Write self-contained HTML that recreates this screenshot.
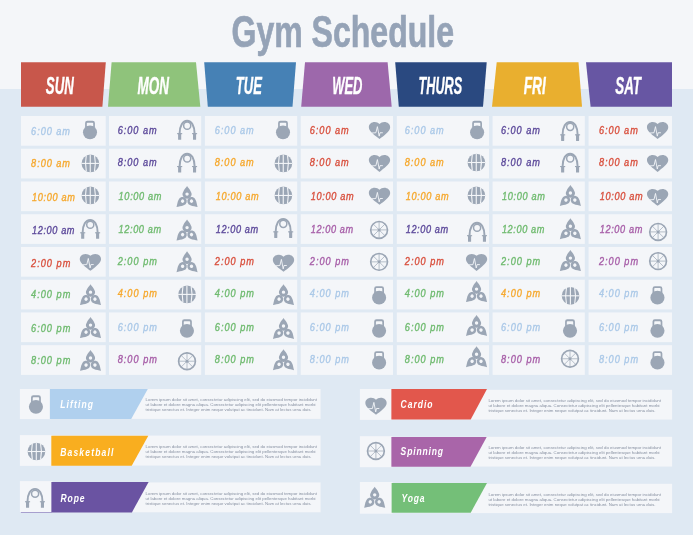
<!DOCTYPE html>
<html lang="en">
<head>
<meta charset="utf-8">
<title>Gym Schedule</title>
<style>
html,body{margin:0;padding:0;background:#dfe9f3;}
body{width:693px;height:535px;overflow:hidden;font-family:"Liberation Sans",Arial,sans-serif;}
svg{display:block;will-change:transform;}
</style>
</head>
<body>
<svg width="693" height="535" viewBox="0 0 693 535" font-family="'Liberation Sans', Arial, sans-serif">
<defs>
<g id="kb" fill="#9ba6b5"><ellipse cx="0" cy="2.3" rx="7.05" ry="6.9"/><path fill-rule="evenodd" d="M-4.9,-2.2 L-4.9,-6.9 Q-4.9,-9.2 -2.6,-9.2 L2.6,-9.2 Q4.9,-9.2 4.9,-6.9 L4.9,-2.2 Z M-3.2,-3.6 L-3.2,-6.6 Q-3.2,-7.3 -2.5,-7.3 L2.5,-7.3 Q3.2,-7.3 3.2,-6.6 L3.2,-3.6 Z"/></g>
<g id="bb"><circle cx="0" cy="0" r="8.85" fill="#9ba6b5"/><g stroke="#f4f6f9" stroke-width="1.1" fill="none"><path d="M-9,0 L9,0"/><path d="M-0.15,-9 L-0.15,9"/><path d="M-4.1,-8 Q-5.7,0 -4.1,8"/><path d="M4.1,-8 Q5.9,0 4.1,8"/></g></g>
<g id="rope" fill="#9ba6b5"><path d="M-7.5,3.6 C-7.4,-4.2 -4.4,-9.05 0,-9.05 C4.4,-9.05 7.4,-4.2 7.5,3.6" fill="none" stroke="#9ba6b5" stroke-width="1.95"/><circle cx="0.1" cy="-4.15" r="3.55" fill="none" stroke="#9ba6b5" stroke-width="1.5"/><rect x="-9" y="3.3" width="3.1" height="6.6" rx="0.3"/><rect x="-10" y="3.3" width="5.1" height="1.1"/><rect x="5.9" y="3.3" width="3.1" height="6.6" rx="0.3"/><rect x="4.9" y="3.3" width="5.1" height="1.1"/></g>
<g id="heart"><path fill="#9ba6b5" transform="translate(-12.78,-11.25) scale(1.065,0.926)" d="M12 21.35l-1.45-1.32C5.4 15.36 2 12.28 2 8.5 2 5.42 4.42 3 7.5 3c1.74 0 3.41.81 4.5 2.09C13.09 3.81 14.76 3 16.5 3 19.58 3 22 5.42 22 8.5c0 3.78-3.4 6.86-8.55 11.54L12 21.35z"/><path d="M-8,2.5 L-3.6,2.2 L-2.1,-3.9 L-0.3,5.6 L0.5,2.2 L3.3,2.2" fill="none" stroke="#f4f6f9" stroke-width="0.9" stroke-linejoin="miter"/></g>
<g id="wheel"><circle cx="0" cy="0" r="8.4" fill="none" stroke="#9ba6b5" stroke-width="1.65"/><g stroke="#9ba6b5" stroke-width="0.7"><path d="M-8.4,-0 L8.4,0"/><path d="M-5.94,-5.94 L5.94,5.94"/><path d="M-0,-8.4 L0,8.4"/><path d="M5.94,-5.94 L-5.94,5.94"/></g><circle cx="0" cy="0" r="1.5" fill="#9ba6b5"/></g>
<g id="yoga" fill="#9ba6b5" fill-rule="evenodd"><path transform="translate(0,-2.7)" d="M0,-8 C0.8,-6.4 3.05,-4.65 3.77,-2.36 A4.45,4.45 0 1 1 -3.77,-2.36 C-3.05,-4.65 -0.8,-6.4 0,-8 Z M1.7,0 A1.7,1.7 0 1 0 -1.7,0 A1.7,1.7 0 1 0 1.7,0 Z"/><path transform="translate(-4.45,4.3) rotate(-134)" d="M0,-8.5 C0.8,-6.6 3.0,-4.5 3.7,-2.0 A4.2,4.2 0 1 1 -3.7,-2.0 C-3.0,-4.5 -0.8,-6.6 0,-8.5 Z M1.7,0 A1.7,1.7 0 1 0 -1.7,0 A1.7,1.7 0 1 0 1.7,0 Z"/><path transform="translate(4.45,4.3) rotate(134)" d="M0,-8.5 C0.8,-6.6 3.0,-4.5 3.7,-2.0 A4.2,4.2 0 1 1 -3.7,-2.0 C-3.0,-4.5 -0.8,-6.6 0,-8.5 Z M1.7,0 A1.7,1.7 0 1 0 -1.7,0 A1.7,1.7 0 1 0 1.7,0 Z"/></g>
</defs>
<rect x="0" y="0" width="693" height="535" fill="#dfe9f3"/>
<rect x="0" y="0" width="693" height="89" fill="#f4f6f9"/>
<text x="231.5" y="46.6" font-size="45.2" font-weight="bold" fill="#95a3b7" stroke="#95a3b7" stroke-width="0.7" textLength="222.5" lengthAdjust="spacingAndGlyphs">Gym Schedule</text>
<polygon points="21,62.2 105.8,62.2 102.4,106.8 21,106.8" fill="#c8574b"/>
<text x="45.8" y="94.3" font-size="23" font-weight="bold" font-style="italic" fill="#ffffff" stroke="#ffffff" stroke-width="0.35" textLength="28" lengthAdjust="spacingAndGlyphs">SUN</text>
<polygon points="111.6,62.2 196,62.2 200.3,106.8 108,106.8" fill="#8fc37b"/>
<text x="137.6" y="94.3" font-size="23" font-weight="bold" font-style="italic" fill="#ffffff" stroke="#ffffff" stroke-width="0.35" textLength="31.5" lengthAdjust="spacingAndGlyphs">MON</text>
<polygon points="204.2,62.2 296,62.2 292.5,106.8 207.8,106.8" fill="#4681b5"/>
<text x="235.8" y="94.3" font-size="23" font-weight="bold" font-style="italic" fill="#ffffff" stroke="#ffffff" stroke-width="0.35" textLength="26.1" lengthAdjust="spacingAndGlyphs">TUE</text>
<polygon points="305,62.2 387.6,62.2 391.7,106.8 301.2,106.8" fill="#9d68ab"/>
<text x="332.2" y="94.3" font-size="23" font-weight="bold" font-style="italic" fill="#ffffff" stroke="#ffffff" stroke-width="0.35" textLength="30.3" lengthAdjust="spacingAndGlyphs">WED</text>
<polygon points="395.2,62.2 486.7,62.2 483,106.8 398.8,106.8" fill="#2a4980"/>
<text x="418.6" y="94.3" font-size="23" font-weight="bold" font-style="italic" fill="#ffffff" stroke="#ffffff" stroke-width="0.35" textLength="43.6" lengthAdjust="spacingAndGlyphs">THURS</text>
<polygon points="496.7,62.2 578.5,62.2 582,106.8 492,106.8" fill="#e9af2f"/>
<text x="523.7" y="94.3" font-size="23" font-weight="bold" font-style="italic" fill="#ffffff" stroke="#ffffff" stroke-width="0.35" textLength="22.1" lengthAdjust="spacingAndGlyphs">FRI</text>
<polygon points="586,62.2 672,62.2 672,106.8 590.6,106.8" fill="#6756a3"/>
<text x="615.2" y="94.3" font-size="23" font-weight="bold" font-style="italic" fill="#ffffff" stroke="#ffffff" stroke-width="0.35" textLength="25.8" lengthAdjust="spacingAndGlyphs">SAT</text>
<rect x="21" y="116" width="84.7" height="29.7" fill="#f4f6f9"/>
<rect x="21" y="148.74" width="84.7" height="29.7" fill="#f4f6f9"/>
<rect x="21" y="181.48" width="84.7" height="29.7" fill="#f4f6f9"/>
<rect x="21" y="214.22" width="84.7" height="29.7" fill="#f4f6f9"/>
<rect x="21" y="246.96" width="84.7" height="29.7" fill="#f4f6f9"/>
<rect x="21" y="279.7" width="84.7" height="29.7" fill="#f4f6f9"/>
<rect x="21" y="312.44" width="84.7" height="29.7" fill="#f4f6f9"/>
<rect x="21" y="345.18" width="84.7" height="29.7" fill="#f4f6f9"/>
<rect x="109" y="116" width="92.2" height="29.7" fill="#f4f6f9"/>
<rect x="109" y="148.74" width="92.2" height="29.7" fill="#f4f6f9"/>
<rect x="109" y="181.48" width="92.2" height="29.7" fill="#f4f6f9"/>
<rect x="109" y="214.22" width="92.2" height="29.7" fill="#f4f6f9"/>
<rect x="109" y="246.96" width="92.2" height="29.7" fill="#f4f6f9"/>
<rect x="109" y="279.7" width="92.2" height="29.7" fill="#f4f6f9"/>
<rect x="109" y="312.44" width="92.2" height="29.7" fill="#f4f6f9"/>
<rect x="109" y="345.18" width="92.2" height="29.7" fill="#f4f6f9"/>
<rect x="204.9" y="116" width="92.3" height="29.7" fill="#f4f6f9"/>
<rect x="204.9" y="148.74" width="92.3" height="29.7" fill="#f4f6f9"/>
<rect x="204.9" y="181.48" width="92.3" height="29.7" fill="#f4f6f9"/>
<rect x="204.9" y="214.22" width="92.3" height="29.7" fill="#f4f6f9"/>
<rect x="204.9" y="246.96" width="92.3" height="29.7" fill="#f4f6f9"/>
<rect x="204.9" y="279.7" width="92.3" height="29.7" fill="#f4f6f9"/>
<rect x="204.9" y="312.44" width="92.3" height="29.7" fill="#f4f6f9"/>
<rect x="204.9" y="345.18" width="92.3" height="29.7" fill="#f4f6f9"/>
<rect x="300.7" y="116" width="92.3" height="29.7" fill="#f4f6f9"/>
<rect x="300.7" y="148.74" width="92.3" height="29.7" fill="#f4f6f9"/>
<rect x="300.7" y="181.48" width="92.3" height="29.7" fill="#f4f6f9"/>
<rect x="300.7" y="214.22" width="92.3" height="29.7" fill="#f4f6f9"/>
<rect x="300.7" y="246.96" width="92.3" height="29.7" fill="#f4f6f9"/>
<rect x="300.7" y="279.7" width="92.3" height="29.7" fill="#f4f6f9"/>
<rect x="300.7" y="312.44" width="92.3" height="29.7" fill="#f4f6f9"/>
<rect x="300.7" y="345.18" width="92.3" height="29.7" fill="#f4f6f9"/>
<rect x="396.8" y="116" width="92.2" height="29.7" fill="#f4f6f9"/>
<rect x="396.8" y="148.74" width="92.2" height="29.7" fill="#f4f6f9"/>
<rect x="396.8" y="181.48" width="92.2" height="29.7" fill="#f4f6f9"/>
<rect x="396.8" y="214.22" width="92.2" height="29.7" fill="#f4f6f9"/>
<rect x="396.8" y="246.96" width="92.2" height="29.7" fill="#f4f6f9"/>
<rect x="396.8" y="279.7" width="92.2" height="29.7" fill="#f4f6f9"/>
<rect x="396.8" y="312.44" width="92.2" height="29.7" fill="#f4f6f9"/>
<rect x="396.8" y="345.18" width="92.2" height="29.7" fill="#f4f6f9"/>
<rect x="492.6" y="116" width="92.2" height="29.7" fill="#f4f6f9"/>
<rect x="492.6" y="148.74" width="92.2" height="29.7" fill="#f4f6f9"/>
<rect x="492.6" y="181.48" width="92.2" height="29.7" fill="#f4f6f9"/>
<rect x="492.6" y="214.22" width="92.2" height="29.7" fill="#f4f6f9"/>
<rect x="492.6" y="246.96" width="92.2" height="29.7" fill="#f4f6f9"/>
<rect x="492.6" y="279.7" width="92.2" height="29.7" fill="#f4f6f9"/>
<rect x="492.6" y="312.44" width="92.2" height="29.7" fill="#f4f6f9"/>
<rect x="492.6" y="345.18" width="92.2" height="29.7" fill="#f4f6f9"/>
<rect x="588.6" y="116" width="83.4" height="29.7" fill="#f4f6f9"/>
<rect x="588.6" y="148.74" width="83.4" height="29.7" fill="#f4f6f9"/>
<rect x="588.6" y="181.48" width="83.4" height="29.7" fill="#f4f6f9"/>
<rect x="588.6" y="214.22" width="83.4" height="29.7" fill="#f4f6f9"/>
<rect x="588.6" y="246.96" width="83.4" height="29.7" fill="#f4f6f9"/>
<rect x="588.6" y="279.7" width="83.4" height="29.7" fill="#f4f6f9"/>
<rect x="588.6" y="312.44" width="83.4" height="29.7" fill="#f4f6f9"/>
<rect x="588.6" y="345.18" width="83.4" height="29.7" fill="#f4f6f9"/>
<text transform="translate(31.1,134.65) scale(0.82,1)" font-size="11.2" font-style="italic" fill="#abc9e8" stroke="#abc9e8" stroke-width="0.38" textLength="47.44" lengthAdjust="spacing">6:00 am</text>
<use href="#kb" x="90" y="130"/>
<text transform="translate(31.1,166.8) scale(0.82,1)" font-size="11.2" font-style="italic" fill="#f6a92f" stroke="#f6a92f" stroke-width="0.38" textLength="47.44" lengthAdjust="spacing">8:00 am</text>
<use href="#bb" x="90.4" y="163.4"/>
<text transform="translate(32,200.8) scale(0.82,1)" font-size="11.2" font-style="italic" fill="#f6a92f" stroke="#f6a92f" stroke-width="0.38" textLength="52.32" lengthAdjust="spacing">10:00 am</text>
<use href="#bb" x="90.4" y="195.45"/>
<text transform="translate(32,234) scale(0.82,1)" font-size="11.2" font-style="italic" fill="#5d4a9b" stroke="#5d4a9b" stroke-width="0.38" textLength="51.83" lengthAdjust="spacing">12:00 am</text>
<use href="#rope" x="90.15" y="228.95"/>
<text transform="translate(31.1,266.8) scale(0.82,1)" font-size="11.2" font-style="italic" fill="#d9513f" stroke="#d9513f" stroke-width="0.38" textLength="47.8" lengthAdjust="spacing">2:00 pm</text>
<use href="#heart" x="90.4" y="262.35"/>
<text transform="translate(31.1,298.3) scale(0.82,1)" font-size="11.2" font-style="italic" fill="#70bb70" stroke="#70bb70" stroke-width="0.38" textLength="47.8" lengthAdjust="spacing">4:00 pm</text>
<use href="#yoga" x="90.5" y="294.85"/>
<text transform="translate(31.1,331.8) scale(0.82,1)" font-size="11.2" font-style="italic" fill="#70bb70" stroke="#70bb70" stroke-width="0.38" textLength="47.8" lengthAdjust="spacing">6:00 pm</text>
<use href="#yoga" x="90.5" y="327.8"/>
<text transform="translate(31.1,364) scale(0.82,1)" font-size="11.2" font-style="italic" fill="#70bb70" stroke="#70bb70" stroke-width="0.38" textLength="47.8" lengthAdjust="spacing">8:00 pm</text>
<use href="#yoga" x="90.5" y="360.65"/>
<text transform="translate(117.7,133.9) scale(0.82,1)" font-size="11.2" font-style="italic" fill="#5d4a9b" stroke="#5d4a9b" stroke-width="0.38" textLength="47.44" lengthAdjust="spacing">6:00 am</text>
<use href="#rope" x="187.1" y="129.8"/>
<text transform="translate(117.7,166.1) scale(0.82,1)" font-size="11.2" font-style="italic" fill="#5d4a9b" stroke="#5d4a9b" stroke-width="0.38" textLength="47.44" lengthAdjust="spacing">8:00 am</text>
<use href="#rope" x="187.1" y="162.7"/>
<text transform="translate(118.6,199.8) scale(0.82,1)" font-size="11.2" font-style="italic" fill="#70bb70" stroke="#70bb70" stroke-width="0.38" textLength="52.32" lengthAdjust="spacing">10:00 am</text>
<use href="#yoga" x="187.05" y="196.8"/>
<text transform="translate(118.6,233) scale(0.82,1)" font-size="11.2" font-style="italic" fill="#70bb70" stroke="#70bb70" stroke-width="0.38" textLength="51.83" lengthAdjust="spacing">12:00 am</text>
<use href="#yoga" x="187.05" y="230.3"/>
<text transform="translate(117.7,264.8) scale(0.82,1)" font-size="11.2" font-style="italic" fill="#70bb70" stroke="#70bb70" stroke-width="0.38" textLength="47.8" lengthAdjust="spacing">2:00 pm</text>
<use href="#yoga" x="187.05" y="262"/>
<text transform="translate(117.7,296.85) scale(0.82,1)" font-size="11.2" font-style="italic" fill="#f6a92f" stroke="#f6a92f" stroke-width="0.38" textLength="47.8" lengthAdjust="spacing">4:00 pm</text>
<use href="#bb" x="187.05" y="294.4"/>
<text transform="translate(117.7,330.8) scale(0.82,1)" font-size="11.2" font-style="italic" fill="#abc9e8" stroke="#abc9e8" stroke-width="0.38" textLength="47.8" lengthAdjust="spacing">6:00 pm</text>
<use href="#kb" x="186.95" y="328.5"/>
<text transform="translate(117.7,363) scale(0.82,1)" font-size="11.2" font-style="italic" fill="#a860a9" stroke="#a860a9" stroke-width="0.38" textLength="47.8" lengthAdjust="spacing">8:00 pm</text>
<use href="#wheel" x="187" y="361.2"/>
<text transform="translate(214.8,133.9) scale(0.82,1)" font-size="11.2" font-style="italic" fill="#abc9e8" stroke="#abc9e8" stroke-width="0.38" textLength="47.44" lengthAdjust="spacing">6:00 am</text>
<use href="#kb" x="283" y="130"/>
<text transform="translate(214.8,166.1) scale(0.82,1)" font-size="11.2" font-style="italic" fill="#f6a92f" stroke="#f6a92f" stroke-width="0.38" textLength="47.44" lengthAdjust="spacing">8:00 am</text>
<use href="#bb" x="283.4" y="163.4"/>
<text transform="translate(215.7,199.8) scale(0.82,1)" font-size="11.2" font-style="italic" fill="#f6a92f" stroke="#f6a92f" stroke-width="0.38" textLength="52.32" lengthAdjust="spacing">10:00 am</text>
<use href="#bb" x="283.4" y="195.45"/>
<text transform="translate(215.7,233) scale(0.82,1)" font-size="11.2" font-style="italic" fill="#5d4a9b" stroke="#5d4a9b" stroke-width="0.38" textLength="51.83" lengthAdjust="spacing">12:00 am</text>
<use href="#rope" x="283.2" y="228"/>
<text transform="translate(214.8,265.1) scale(0.82,1)" font-size="11.2" font-style="italic" fill="#d9513f" stroke="#d9513f" stroke-width="0.38" textLength="47.8" lengthAdjust="spacing">2:00 pm</text>
<use href="#heart" x="283.5" y="263.3"/>
<text transform="translate(214.8,297.25) scale(0.82,1)" font-size="11.2" font-style="italic" fill="#70bb70" stroke="#70bb70" stroke-width="0.38" textLength="47.8" lengthAdjust="spacing">4:00 pm</text>
<use href="#yoga" x="283.5" y="294.85"/>
<text transform="translate(214.8,330.8) scale(0.82,1)" font-size="11.2" font-style="italic" fill="#70bb70" stroke="#70bb70" stroke-width="0.38" textLength="47.8" lengthAdjust="spacing">6:00 pm</text>
<use href="#yoga" x="283.5" y="328.7"/>
<text transform="translate(214.8,363) scale(0.82,1)" font-size="11.2" font-style="italic" fill="#70bb70" stroke="#70bb70" stroke-width="0.38" textLength="47.8" lengthAdjust="spacing">8:00 pm</text>
<use href="#yoga" x="283.5" y="359.95"/>
<text transform="translate(309.8,133.9) scale(0.82,1)" font-size="11.2" font-style="italic" fill="#d9513f" stroke="#d9513f" stroke-width="0.38" textLength="47.44" lengthAdjust="spacing">6:00 am</text>
<use href="#heart" x="379.5" y="130.55"/>
<text transform="translate(309.8,166.1) scale(0.82,1)" font-size="11.2" font-style="italic" fill="#d9513f" stroke="#d9513f" stroke-width="0.38" textLength="47.44" lengthAdjust="spacing">8:00 am</text>
<use href="#heart" x="379.5" y="163.45"/>
<text transform="translate(310.7,200.1) scale(0.82,1)" font-size="11.2" font-style="italic" fill="#d9513f" stroke="#d9513f" stroke-width="0.38" textLength="52.32" lengthAdjust="spacing">10:00 am</text>
<use href="#heart" x="379.5" y="196.3"/>
<text transform="translate(310.7,233) scale(0.82,1)" font-size="11.2" font-style="italic" fill="#a860a9" stroke="#a860a9" stroke-width="0.38" textLength="51.83" lengthAdjust="spacing">12:00 am</text>
<use href="#wheel" x="379.1" y="229.9"/>
<text transform="translate(309.8,264.8) scale(0.82,1)" font-size="11.2" font-style="italic" fill="#a860a9" stroke="#a860a9" stroke-width="0.38" textLength="47.8" lengthAdjust="spacing">2:00 pm</text>
<use href="#wheel" x="379.1" y="261.85"/>
<text transform="translate(309.8,296.8) scale(0.82,1)" font-size="11.2" font-style="italic" fill="#abc9e8" stroke="#abc9e8" stroke-width="0.38" textLength="47.8" lengthAdjust="spacing">4:00 pm</text>
<use href="#kb" x="379.1" y="295.4"/>
<text transform="translate(309.8,330.8) scale(0.82,1)" font-size="11.2" font-style="italic" fill="#abc9e8" stroke="#abc9e8" stroke-width="0.38" textLength="47.8" lengthAdjust="spacing">6:00 pm</text>
<use href="#kb" x="379.1" y="328.5"/>
<text transform="translate(309.8,362.9) scale(0.82,1)" font-size="11.2" font-style="italic" fill="#abc9e8" stroke="#abc9e8" stroke-width="0.38" textLength="47.8" lengthAdjust="spacing">8:00 pm</text>
<use href="#kb" x="379.1" y="360.4"/>
<text transform="translate(404.8,133.9) scale(0.82,1)" font-size="11.2" font-style="italic" fill="#abc9e8" stroke="#abc9e8" stroke-width="0.38" textLength="47.44" lengthAdjust="spacing">6:00 am</text>
<use href="#kb" x="477.1" y="130"/>
<text transform="translate(404.8,166.1) scale(0.82,1)" font-size="11.2" font-style="italic" fill="#f6a92f" stroke="#f6a92f" stroke-width="0.38" textLength="47.44" lengthAdjust="spacing">8:00 am</text>
<use href="#bb" x="476.4" y="162.5"/>
<text transform="translate(405.7,199.8) scale(0.82,1)" font-size="11.2" font-style="italic" fill="#f6a92f" stroke="#f6a92f" stroke-width="0.38" textLength="52.32" lengthAdjust="spacing">10:00 am</text>
<use href="#bb" x="476.4" y="195.45"/>
<text transform="translate(405.7,233) scale(0.82,1)" font-size="11.2" font-style="italic" fill="#5d4a9b" stroke="#5d4a9b" stroke-width="0.38" textLength="51.83" lengthAdjust="spacing">12:00 am</text>
<use href="#rope" x="477" y="231.85"/>
<text transform="translate(404.8,264.8) scale(0.82,1)" font-size="11.2" font-style="italic" fill="#d9513f" stroke="#d9513f" stroke-width="0.38" textLength="47.8" lengthAdjust="spacing">2:00 pm</text>
<use href="#heart" x="476.55" y="262.4"/>
<text transform="translate(404.8,296.85) scale(0.82,1)" font-size="11.2" font-style="italic" fill="#70bb70" stroke="#70bb70" stroke-width="0.38" textLength="47.8" lengthAdjust="spacing">4:00 pm</text>
<use href="#yoga" x="476.55" y="291.8"/>
<text transform="translate(404.8,330.8) scale(0.82,1)" font-size="11.2" font-style="italic" fill="#70bb70" stroke="#70bb70" stroke-width="0.38" textLength="47.8" lengthAdjust="spacing">6:00 pm</text>
<use href="#yoga" x="476.55" y="325.7"/>
<text transform="translate(404.8,363) scale(0.82,1)" font-size="11.2" font-style="italic" fill="#70bb70" stroke="#70bb70" stroke-width="0.38" textLength="47.8" lengthAdjust="spacing">8:00 pm</text>
<use href="#yoga" x="476.55" y="357"/>
<text transform="translate(501,133.9) scale(0.82,1)" font-size="11.2" font-style="italic" fill="#5d4a9b" stroke="#5d4a9b" stroke-width="0.38" textLength="47.44" lengthAdjust="spacing">6:00 am</text>
<use href="#rope" x="570.1" y="131"/>
<text transform="translate(501,166.1) scale(0.82,1)" font-size="11.2" font-style="italic" fill="#5d4a9b" stroke="#5d4a9b" stroke-width="0.38" textLength="47.44" lengthAdjust="spacing">8:00 am</text>
<use href="#rope" x="570.1" y="162.7"/>
<text transform="translate(501.9,199.8) scale(0.82,1)" font-size="11.2" font-style="italic" fill="#70bb70" stroke="#70bb70" stroke-width="0.38" textLength="52.32" lengthAdjust="spacing">10:00 am</text>
<use href="#yoga" x="570.4" y="195.7"/>
<text transform="translate(501.9,233) scale(0.82,1)" font-size="11.2" font-style="italic" fill="#70bb70" stroke="#70bb70" stroke-width="0.38" textLength="51.83" lengthAdjust="spacing">12:00 am</text>
<use href="#yoga" x="570.4" y="229"/>
<text transform="translate(501,264.8) scale(0.82,1)" font-size="11.2" font-style="italic" fill="#70bb70" stroke="#70bb70" stroke-width="0.38" textLength="47.8" lengthAdjust="spacing">2:00 pm</text>
<use href="#yoga" x="570.4" y="260.8"/>
<text transform="translate(501,296.85) scale(0.82,1)" font-size="11.2" font-style="italic" fill="#f6a92f" stroke="#f6a92f" stroke-width="0.38" textLength="47.8" lengthAdjust="spacing">4:00 pm</text>
<use href="#bb" x="570.55" y="295.8"/>
<text transform="translate(501,330.8) scale(0.82,1)" font-size="11.2" font-style="italic" fill="#abc9e8" stroke="#abc9e8" stroke-width="0.38" textLength="47.8" lengthAdjust="spacing">6:00 pm</text>
<use href="#kb" x="570" y="328.5"/>
<text transform="translate(501,363) scale(0.82,1)" font-size="11.2" font-style="italic" fill="#a860a9" stroke="#a860a9" stroke-width="0.38" textLength="47.8" lengthAdjust="spacing">8:00 pm</text>
<use href="#wheel" x="570" y="358.75"/>
<text transform="translate(598.9,133.9) scale(0.82,1)" font-size="11.2" font-style="italic" fill="#d9513f" stroke="#d9513f" stroke-width="0.38" textLength="47.44" lengthAdjust="spacing">6:00 am</text>
<use href="#heart" x="657.6" y="130.55"/>
<text transform="translate(598.9,166.1) scale(0.82,1)" font-size="11.2" font-style="italic" fill="#d9513f" stroke="#d9513f" stroke-width="0.38" textLength="47.44" lengthAdjust="spacing">8:00 am</text>
<use href="#heart" x="657.6" y="163.45"/>
<text transform="translate(599.8,199.8) scale(0.82,1)" font-size="11.2" font-style="italic" fill="#d9513f" stroke="#d9513f" stroke-width="0.38" textLength="52.32" lengthAdjust="spacing">10:00 am</text>
<use href="#heart" x="657.6" y="197.35"/>
<text transform="translate(599.8,233) scale(0.82,1)" font-size="11.2" font-style="italic" fill="#a860a9" stroke="#a860a9" stroke-width="0.38" textLength="51.83" lengthAdjust="spacing">12:00 am</text>
<use href="#wheel" x="658.1" y="231.9"/>
<text transform="translate(598.9,264.8) scale(0.82,1)" font-size="11.2" font-style="italic" fill="#a860a9" stroke="#a860a9" stroke-width="0.38" textLength="47.8" lengthAdjust="spacing">2:00 pm</text>
<use href="#wheel" x="658.1" y="261.1"/>
<text transform="translate(598.9,296.85) scale(0.82,1)" font-size="11.2" font-style="italic" fill="#abc9e8" stroke="#abc9e8" stroke-width="0.38" textLength="47.8" lengthAdjust="spacing">4:00 pm</text>
<use href="#kb" x="657.45" y="295.4"/>
<text transform="translate(598.9,330.8) scale(0.82,1)" font-size="11.2" font-style="italic" fill="#abc9e8" stroke="#abc9e8" stroke-width="0.38" textLength="47.8" lengthAdjust="spacing">6:00 pm</text>
<use href="#kb" x="657.45" y="328.5"/>
<text transform="translate(598.9,363) scale(0.82,1)" font-size="11.2" font-style="italic" fill="#abc9e8" stroke="#abc9e8" stroke-width="0.38" textLength="47.8" lengthAdjust="spacing">8:00 pm</text>
<use href="#kb" x="657.45" y="360.4"/>
<rect x="19.9" y="389" width="31" height="30.1" fill="#f4f6f9"/>
<rect x="49.9" y="389" width="270.7" height="29.9" fill="#f4f6f9"/>
<polygon points="49.9,389 147.8,389 131.2,418.9 49.9,418.9" fill="#b0d0ee"/>
<use href="#kb" x="35.95" y="404.5"/>
<text transform="translate(60.2,407.5) scale(0.73,1)" font-size="11.7" font-weight="bold" font-style="italic" fill="#ffffff" textLength="45.07" lengthAdjust="spacing">Lifting</text>
<text x="145.6" y="401.1" font-size="4" fill="#8790a1" textLength="171.4" lengthAdjust="spacingAndGlyphs">Lorem ipsum dolor sit amet, consectetur adipiscing elit, sed do eiusmod tempor incididunt</text>
<text x="145.6" y="406.1" font-size="4" fill="#8790a1" textLength="170" lengthAdjust="spacingAndGlyphs">ut labore et dolore magna aliqua. Consectetur adipiscing elit pellentesque habitant morbi</text>
<text x="145.6" y="411.1" font-size="4" fill="#8790a1" textLength="165.9" lengthAdjust="spacingAndGlyphs">tristique senectus et. Integer enim neque volutpat ac tincidunt. Nam at lectus urna duis.</text>
<rect x="19.9" y="435.1" width="32.4" height="30.8" fill="#f4f6f9"/>
<rect x="51.3" y="435.6" width="269.3" height="30" fill="#f4f6f9"/>
<polygon points="51.3,435.8 148.3,435.8 131.7,465.7 51.3,465.7" fill="#f9ae1f"/>
<use href="#bb" x="36.45" y="451.5"/>
<text transform="translate(60.2,455.8) scale(0.73,1)" font-size="11.7" font-weight="bold" font-style="italic" fill="#ffffff" textLength="72.88" lengthAdjust="spacing">Basketball</text>
<text x="145.6" y="447.8" font-size="4" fill="#8790a1" textLength="171.4" lengthAdjust="spacingAndGlyphs">Lorem ipsum dolor sit amet, consectetur adipiscing elit, sed do eiusmod tempor incididunt</text>
<text x="145.6" y="452.8" font-size="4" fill="#8790a1" textLength="170" lengthAdjust="spacingAndGlyphs">ut labore et dolore magna aliqua. Consectetur adipiscing elit pellentesque habitant morbi</text>
<text x="145.6" y="457.8" font-size="4" fill="#8790a1" textLength="165.9" lengthAdjust="spacingAndGlyphs">tristique senectus et. Integer enim neque volutpat ac tincidunt. Nam at lectus urna duis.</text>
<rect x="19.9" y="481.1" width="32.5" height="31" fill="#f4f6f9"/>
<rect x="51.4" y="482.4" width="269.2" height="29.9" fill="#f4f6f9"/>
<polygon points="51.4,482 148.6,482 131.9,512.4 51.4,512.4" fill="#6a53a2"/>
<use href="#rope" x="35" y="497.9"/>
<text transform="translate(60.6,501.8) scale(0.73,1)" font-size="11.7" font-weight="bold" font-style="italic" fill="#ffffff" textLength="32.74" lengthAdjust="spacing">Rope</text>
<text x="145.6" y="495" font-size="4" fill="#8790a1" textLength="171.4" lengthAdjust="spacingAndGlyphs">Lorem ipsum dolor sit amet, consectetur adipiscing elit, sed do eiusmod tempor incididunt</text>
<text x="145.6" y="500" font-size="4" fill="#8790a1" textLength="170" lengthAdjust="spacingAndGlyphs">ut labore et dolore magna aliqua. Consectetur adipiscing elit pellentesque habitant morbi</text>
<text x="145.6" y="505" font-size="4" fill="#8790a1" textLength="165.9" lengthAdjust="spacingAndGlyphs">tristique senectus et. Integer enim neque volutpat ac tincidunt. Nam at lectus urna duis.</text>
<rect x="359.9" y="389" width="32.5" height="30.9" fill="#f4f6f9"/>
<rect x="391.4" y="389.8" width="280.7" height="29.8" fill="#f4f6f9"/>
<polygon points="391.4,388.9 487,388.9 470.7,419.6 391.4,419.6" fill="#e2574c"/>
<use href="#heart" x="376" y="406.3"/>
<text transform="translate(400.6,407.5) scale(0.73,1)" font-size="11.7" font-weight="bold" font-style="italic" fill="#ffffff" textLength="43.84" lengthAdjust="spacing">Cardio</text>
<text x="488.4" y="401.8" font-size="4" fill="#8790a1" textLength="172.6" lengthAdjust="spacingAndGlyphs">Lorem ipsum dolor sit amet, consectetur adipiscing elit, sed do eiusmod tempor incididunt</text>
<text x="488.4" y="406.8" font-size="4" fill="#8790a1" textLength="171.2" lengthAdjust="spacingAndGlyphs">ut labore et dolore magna aliqua. Consectetur adipiscing elit pellentesque habitant morbi</text>
<text x="488.4" y="411.8" font-size="4" fill="#8790a1" textLength="167.1" lengthAdjust="spacingAndGlyphs">tristique senectus et. Integer enim neque volutpat ac tincidunt. Nam at lectus urna duis.</text>
<rect x="359.9" y="436.2" width="32.5" height="31" fill="#f4f6f9"/>
<rect x="391.4" y="436.8" width="280.7" height="29.8" fill="#f4f6f9"/>
<polygon points="391.4,437 486.7,437 470.5,466.7 391.4,466.7" fill="#a965a9"/>
<use href="#wheel" x="375.9" y="451"/>
<text transform="translate(400.6,454.7) scale(0.73,1)" font-size="11.7" font-weight="bold" font-style="italic" fill="#ffffff" textLength="58.08" lengthAdjust="spacing">Spinning</text>
<text x="488.4" y="449" font-size="4" fill="#8790a1" textLength="172.6" lengthAdjust="spacingAndGlyphs">Lorem ipsum dolor sit amet, consectetur adipiscing elit, sed do eiusmod tempor incididunt</text>
<text x="488.4" y="454" font-size="4" fill="#8790a1" textLength="171.2" lengthAdjust="spacingAndGlyphs">ut labore et dolore magna aliqua. Consectetur adipiscing elit pellentesque habitant morbi</text>
<text x="488.4" y="459" font-size="4" fill="#8790a1" textLength="167.1" lengthAdjust="spacingAndGlyphs">tristique senectus et. Integer enim neque volutpat ac tincidunt. Nam at lectus urna duis.</text>
<rect x="359.9" y="482" width="32.7" height="31.7" fill="#f4f6f9"/>
<rect x="391.6" y="483.8" width="280.5" height="29.3" fill="#f4f6f9"/>
<polygon points="391.6,483.1 487,483.1 470.7,512.7 391.6,512.7" fill="#74bf78"/>
<use href="#yoga" x="374.7" y="497.55"/>
<text transform="translate(401.5,501.8) scale(0.73,1)" font-size="11.7" font-weight="bold" font-style="italic" fill="#ffffff" textLength="31.51" lengthAdjust="spacing">Yoga</text>
<text x="488.4" y="496" font-size="4" fill="#8790a1" textLength="172.6" lengthAdjust="spacingAndGlyphs">Lorem ipsum dolor sit amet, consectetur adipiscing elit, sed do eiusmod tempor incididunt</text>
<text x="488.4" y="501" font-size="4" fill="#8790a1" textLength="171.2" lengthAdjust="spacingAndGlyphs">ut labore et dolore magna aliqua. Consectetur adipiscing elit pellentesque habitant morbi</text>
<text x="488.4" y="506" font-size="4" fill="#8790a1" textLength="167.1" lengthAdjust="spacingAndGlyphs">tristique senectus et. Integer enim neque volutpat ac tincidunt. Nam at lectus urna duis.</text>
<rect x="20.9" y="512.1" width="31" height="0.7" fill="#8f7fbd"/>
</svg>
</body>
</html>
